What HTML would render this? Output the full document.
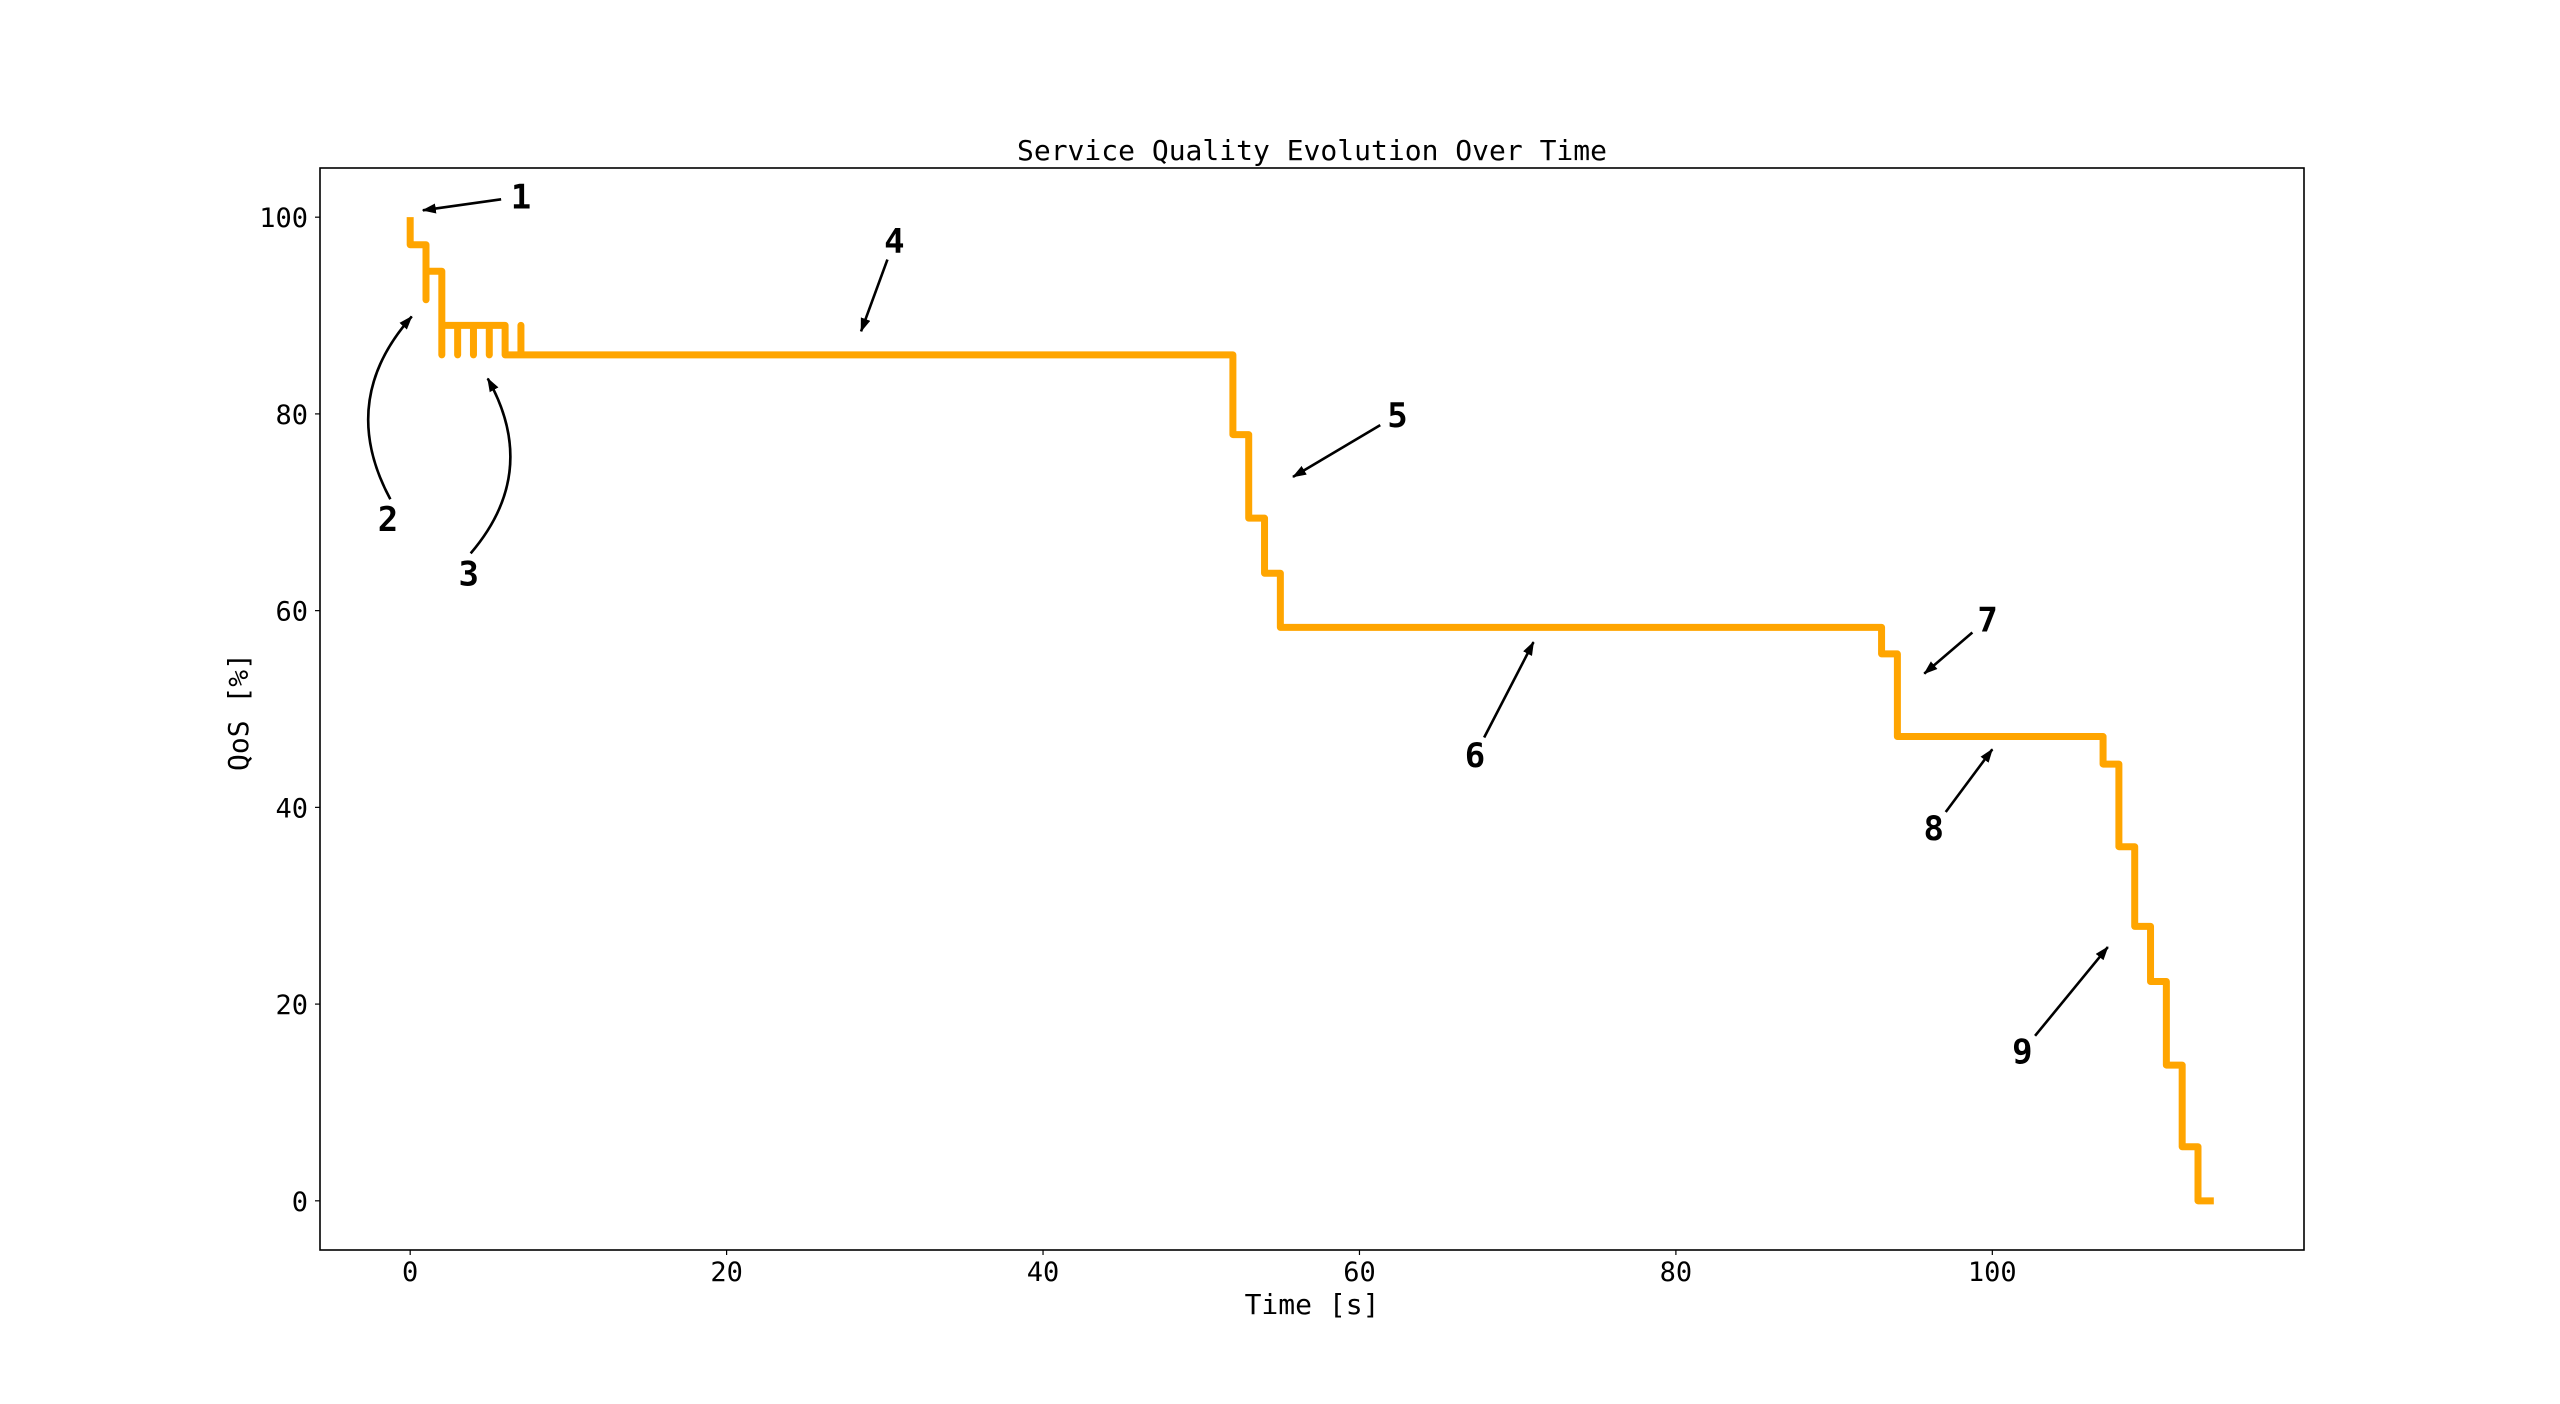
<!DOCTYPE html>
<html>
<head>
<meta charset="utf-8">
<style>
html,body{margin:0;padding:0;background:#fff;}
svg{display:block;}
text{font-family:"DejaVu Sans Mono","Liberation Mono",monospace;fill:#000;}
</style>
</head>
<body>
<svg id="chart" width="2560" height="1404" viewBox="0 0 2560 1404" xmlns="http://www.w3.org/2000/svg">
  <defs>
    <marker id="ah" markerWidth="14" markerHeight="10" refX="13" refY="5" orient="auto" markerUnits="userSpaceOnUse" viewBox="0 0 14 10">
      <path d="M0,0 L14,5 L0,10 z" fill="#000"/>
    </marker>
  </defs>
  <rect x="0" y="0" width="2560" height="1404" fill="#fff"/>
  <text x="1312" y="160" font-size="28" text-anchor="middle">Service Quality Evolution Over Time</text>
  <g id="xticks"></g>
  <g id="yticks"></g>
  <g id="series"></g>
  <g id="annots"></g>
  <rect x="320" y="168" width="1984" height="1082" fill="none" stroke="#000" stroke-width="1.6"/>
  <text x="1312" y="1314" font-size="28" text-anchor="middle">Time [s]</text>
  <text x="0" y="0" font-size="28" text-anchor="middle" transform="translate(248,712) rotate(-90)">QoS [%]</text>
</svg>
<script>
// Data (step-post drawing; repeated times create vertical spikes)
const times  = [0, 0, 1, 1, 2, 2, 3, 3, 4, 4, 5, 5, 6, 7, 7, 52, 53, 54, 55, 93, 94, 107, 108, 109, 110, 111, 112, 113, 114];
const values = [100, 97.2, 91.6, 94.5, 86, 89, 86, 89, 86, 89, 86, 89, 86, 89, 86, 77.9, 69.4, 63.8, 58.3, 55.6, 47.2, 44.4, 36.0, 27.9, 22.3, 13.8, 5.5, 0, 0];
const xTickValues = [0, 20, 40, 60, 80, 100];
const yTickValues = [0, 20, 40, 60, 80, 100];
const annotLabels = ["1", "2", "3", "4", "5", "6", "7", "8", "9"];
const annotTargetT = [0.8, 0.1, 4.9, 28.5, 55.8, 71.0, 95.7, 100.0, 107.3];
const annotTargetQ = [100.7, 89.9, 83.6, 88.4, 73.6, 56.8, 53.6, 45.9, 25.8];
const annotTextT = [7.0, -1.4, 3.7, 30.6, 62.4, 67.3, 99.7, 96.3, 101.9];
const annotTextQ = [102.1, 69.3, 63.8, 97.6, 79.9, 45.3, 59.1, 37.9, 15.2];

const X0 = 320, X1 = 2304, Y0 = 168, Y1 = 1250;
const xmin = -5.7, xmax = 119.7, ymin = -5, ymax = 105;
function sx(t){ return X0 + (t - xmin) / (xmax - xmin) * (X1 - X0); }
function sy(q){ return Y1 - (q - ymin) / (ymax - ymin) * (Y1 - Y0); }
const NS = "http://www.w3.org/2000/svg";

const xg = document.getElementById('xticks');
xTickValues.forEach(v => {
  const l = document.createElementNS(NS, 'line');
  l.setAttribute('x1', sx(v)); l.setAttribute('x2', sx(v));
  l.setAttribute('y1', Y1); l.setAttribute('y2', Y1 + 5);
  l.setAttribute('stroke', '#000'); l.setAttribute('stroke-width', '1.2');
  
  
  xg.appendChild(l);
  const t = document.createElementNS(NS, 'text');
  t.setAttribute('x', sx(v)); t.setAttribute('y', Y1 + 31);
  t.setAttribute('font-size', '27'); t.setAttribute('text-anchor', 'middle');
  t.textContent = v;
  
  
  xg.appendChild(t);
});
const yg = document.getElementById('yticks');
yTickValues.forEach(v => {
  const l = document.createElementNS(NS, 'line');
  l.setAttribute('x1', X0 - 5); l.setAttribute('x2', X0);
  l.setAttribute('y1', sy(v)); l.setAttribute('y2', sy(v));
  l.setAttribute('stroke', '#000'); l.setAttribute('stroke-width', '1.2');
  
  
  yg.appendChild(l);
  const t = document.createElementNS(NS, 'text');
  t.setAttribute('x', X0 - 12); t.setAttribute('y', sy(v) + 10);
  t.setAttribute('font-size', '27'); t.setAttribute('text-anchor', 'end');
  t.textContent = v;
  
  
  yg.appendChild(t);
});

// Step-post path
let d = 'M' + sx(times[0]) + ',' + sy(values[0]);
for (let i = 1; i < times.length; i++) {
  d += ' L' + sx(times[i]) + ',' + sy(values[i-1]);
  d += ' L' + sx(times[i]) + ',' + sy(values[i]);
}
const p = document.createElementNS(NS, 'path');
p.setAttribute('d', d);
p.setAttribute('fill', 'none');
p.setAttribute('stroke', '#FFA500');
p.setAttribute('stroke-width', '7');
p.setAttribute('stroke-linejoin', 'round');
p.setAttribute('stroke-linecap', 'butt');


document.getElementById('series').appendChild(p);

// Annotations
const ag = document.getElementById('annots');
const curveBend = [0, -0.35, 0.35, 0, 0, 0, 0, 0, 0];
annotLabels.forEach((lab, i) => {
  const tx = sx(annotTextT[i]), ty = sy(annotTextQ[i]);
  const hx = sx(annotTargetT[i]), hy = sy(annotTargetQ[i]);
  const t = document.createElementNS(NS, 'text');
  t.setAttribute('x', tx); t.setAttribute('y', ty + 12);
  t.setAttribute('font-size', '34'); t.setAttribute('font-weight', 'bold');
  t.setAttribute('text-anchor', 'middle');
  t.textContent = lab;
  
  
  ag.appendChild(t);
  const dx = hx - tx, dy = hy - ty, len = Math.hypot(dx, dy);
  const sxp = tx + dx / len * 20, syp = ty + dy / len * 20;
  const a = document.createElementNS(NS, 'path');
  let pd;
  if (curveBend[i] !== 0) {
    const mx = (sxp + hx) / 2, my = (syp + hy) / 2;
    const cx = mx - (hy - syp) * curveBend[i], cy = my + (hx - sxp) * curveBend[i];
    pd = 'M' + sxp + ',' + syp + ' Q' + cx + ',' + cy + ' ' + hx + ',' + hy;
  } else {
    pd = 'M' + sxp + ',' + syp + ' L' + hx + ',' + hy;
  }
  a.setAttribute('d', pd);
  a.setAttribute('fill', 'none');
  a.setAttribute('stroke', '#000');
  a.setAttribute('stroke-width', '2.6');
  a.setAttribute('marker-end', 'url(#ah)');
  
  
  ag.appendChild(a);
});
</script>
</body>
</html>
